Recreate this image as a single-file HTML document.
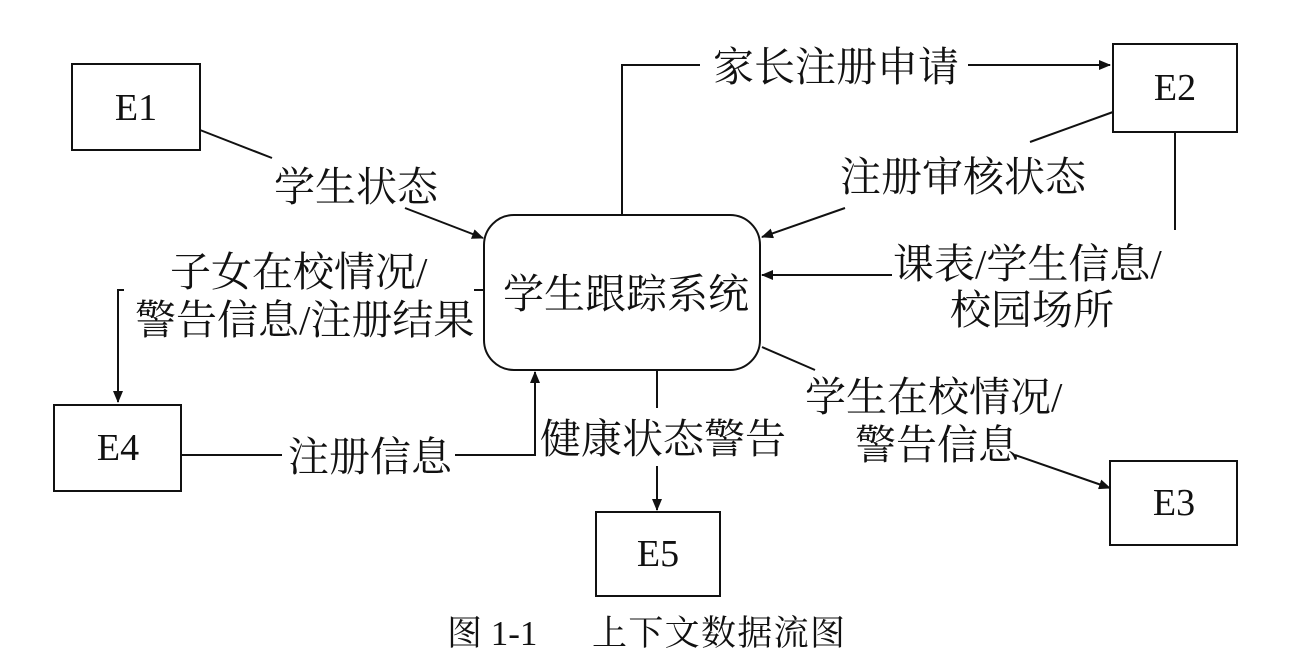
<!DOCTYPE html>
<html><head><meta charset="utf-8"><style>
html,body{margin:0;padding:0;background:#fff;}
svg{display:block;}
text{font-family:"Liberation Serif","Noto Serif CJK SC","Noto Sans CJK SC",serif;fill:#111;}
</style></head><body>
<svg width="1296" height="668" viewBox="0 0 1296 668" xmlns="http://www.w3.org/2000/svg">
<defs><marker id="a" markerWidth="12" markerHeight="10" refX="11" refY="5" orient="auto" markerUnits="userSpaceOnUse"><path d="M0,0 L12,5 L0,10 z" fill="#111"/></marker></defs>
<g stroke="#111" stroke-width="2" fill="none">
<rect x="72" y="64" width="128" height="86"/>
<rect x="1113" y="44" width="124" height="88"/>
<rect x="54" y="405" width="127" height="86"/>
<rect x="596" y="512" width="124" height="84"/>
<rect x="1110" y="461" width="127" height="84"/>
<rect x="484" y="215" width="276" height="155" rx="30"/>
<polyline points="622,215 622,65 700,65"/>
<line x1="968" y1="65" x2="1110" y2="65" marker-end="url(#a)"/>
<line x1="200" y1="130" x2="272" y2="158"/>
<line x1="405" y1="208" x2="483" y2="238" marker-end="url(#a)"/>
<line x1="1113" y1="112" x2="1030" y2="142"/>
<line x1="845" y1="208" x2="762" y2="237" marker-end="url(#a)"/>
<line x1="1175" y1="132" x2="1175" y2="230"/>
<line x1="892" y1="275" x2="762" y2="275" marker-end="url(#a)"/>
<line x1="483" y1="290" x2="474" y2="290"/>
<polyline points="124,290 118,290 118,402" marker-end="url(#a)"/>
<line x1="181" y1="455" x2="282" y2="455"/>
<polyline points="455,455 535,455 535,372" marker-end="url(#a)"/>
<line x1="657" y1="370" x2="657" y2="408"/>
<line x1="657" y1="466" x2="657" y2="510" marker-end="url(#a)"/>
<line x1="762" y1="347" x2="815" y2="370"/>
<line x1="1015" y1="455" x2="1110" y2="488" marker-end="url(#a)"/>
</g>
<g font-size="38" text-anchor="middle">
<text x="136" y="120">E1</text>
<text x="1175" y="100">E2</text>
<text x="118" y="460">E4</text>
<text x="658" y="566">E5</text>
<text x="1174" y="515">E3</text>
</g>
<g font-size="41">
<text x="503" y="308">学生跟踪系统</text>
<text x="713" y="81">家长注册申请</text>
<text x="274" y="201">学生状态</text>
<text x="840" y="191">注册审核状态</text>
<text x="893" y="278">课表/学生信息/</text>
<text x="950" y="324">校园场所</text>
<text x="170" y="286">子女在校情况/</text>
<text x="135" y="334">警告信息/注册结果</text>
<text x="288" y="471">注册信息</text>
<text x="540" y="453">健康状态警告</text>
<text x="805" y="411">学生在校情况/</text>
<text x="855" y="459">警告信息</text>
</g>
<text x="447" y="645" font-size="35">图 1-1</text>
<text x="592" y="645" font-size="35" textLength="253" lengthAdjust="spacing">上下文数据流图</text>
</svg>
</body></html>
